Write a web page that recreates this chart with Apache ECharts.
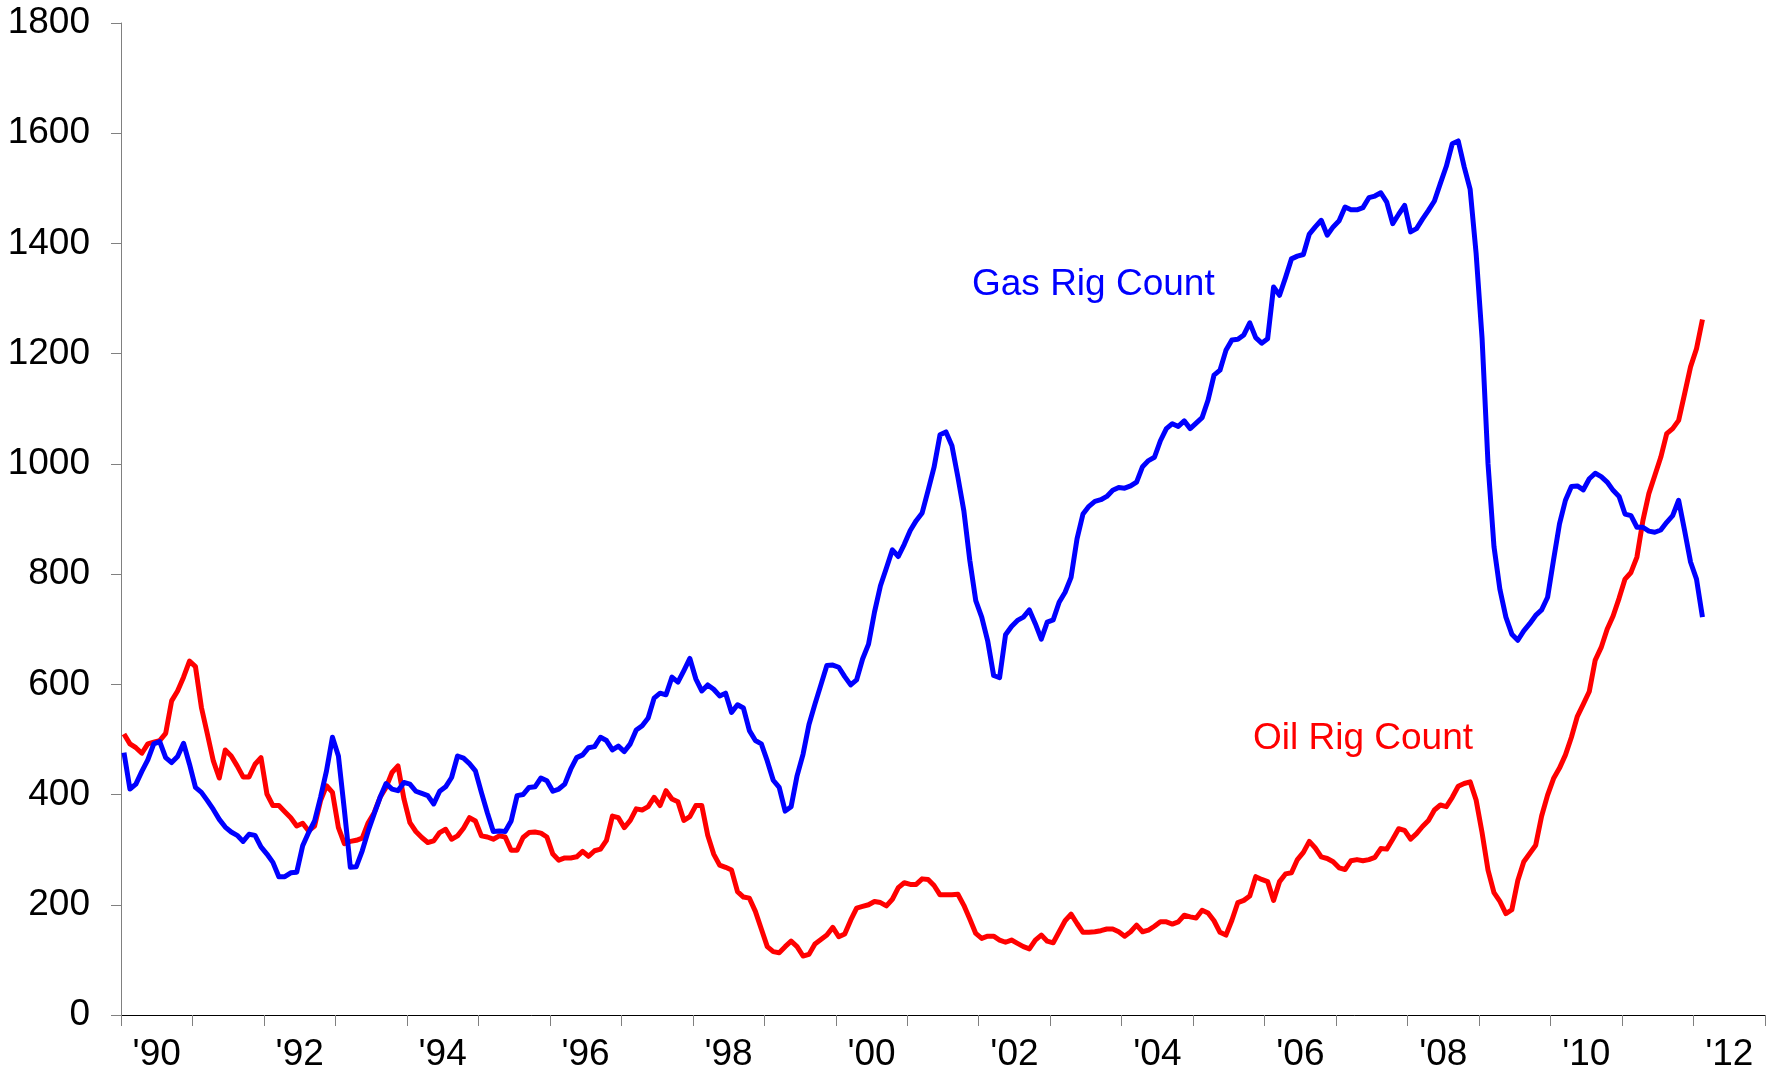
<!DOCTYPE html>
<html>
<head>
<meta charset="utf-8">
<script src="https://cdn.jsdelivr.net/npm/echarts@6/dist/echarts.min.js"></script>
<style>
  html, body { margin: 0; padding: 0; background: #fff; }
  #rig-chart { width: 1779px; height: 1077px; }
</style>
</head>
<body>
<div id="rig-chart"></div>
<script>
// monthly rig counts, Jan 1990 .. Feb 2012
const gasRigs = [
  476, 410, 419, 442, 463, 492, 496, 467, 458, 469, 493, 455,
  413, 404, 389, 373, 355, 341, 332, 326, 315, 328, 326, 305,
  292, 277, 251, 251, 258, 259, 307, 331, 352, 395, 443, 504,
  470, 372, 268, 269, 298, 334, 365, 395, 420, 410, 407, 422,
  419, 406, 402, 398, 383, 406, 414, 431, 470, 466, 456, 443,
  404, 367, 333, 334, 333, 352, 398, 400, 413, 414, 430, 425,
  406, 410, 419, 446, 467, 472, 485, 487, 504, 498, 481, 488,
  478, 492, 517, 525, 539, 575, 584, 581, 613, 604, 625, 647,
  610, 588, 599, 591, 579, 584, 549, 563, 557, 516, 498, 492,
  461, 426, 413, 370, 378, 434, 473, 527, 564, 599, 634, 635,
  631, 614, 599, 608, 646, 673, 731, 779, 811, 844, 832, 854,
  879, 897, 911, 952, 994, 1053, 1058, 1033, 976, 915, 825, 752,
  722, 679, 616, 612, 690, 705, 716, 722, 735, 710, 682, 713,
  717, 749, 767, 794, 864, 909, 923, 932, 935, 941, 952, 957,
  956, 960, 967, 995, 1006, 1012, 1042, 1064, 1073, 1068, 1078, 1064,
  1074, 1084, 1116, 1161, 1170, 1206, 1225, 1226, 1234, 1256, 1229, 1219,
  1227, 1321, 1306, 1338, 1372, 1377, 1380, 1417, 1430, 1442, 1415, 1430,
  1441, 1466, 1461, 1461, 1465, 1483, 1486, 1492, 1475, 1436, 1453, 1469,
  1421, 1427, 1444, 1460, 1477, 1509, 1540, 1581, 1586, 1539, 1498, 1382,
  1228, 1000, 850, 772, 722, 691, 680, 697, 710, 725, 735, 758,
  826, 891, 934, 959, 960, 953, 973, 983, 977, 967, 952, 941,
  909, 906, 885, 885, 878, 876, 880, 894, 906, 934, 879, 822,
  791, 722
];
const oilRigs = [
  510, 492, 485, 475, 492, 495, 498, 511, 570, 588, 613, 642,
  632, 558, 510, 461, 430, 481, 470, 452, 432, 432, 455, 467,
  401, 380, 380, 369, 358, 343, 348, 334, 343, 389, 416, 404,
  340, 311, 315, 317, 321, 349, 367, 395, 413, 440, 452, 392,
  349, 333, 322, 313, 316, 331, 337, 319, 325, 339, 358, 352,
  325, 323, 319, 325, 323, 299, 299, 322, 331, 332, 330, 323,
  292, 281, 285, 285, 287, 297, 288, 298, 301, 317, 361, 358,
  340, 353, 374, 372, 378, 395, 380, 407, 392, 387, 353, 360,
  380, 380, 326, 292, 272, 268, 263, 224, 214, 212, 188, 156,
  124, 115, 113, 124, 134, 124, 107, 110, 129, 137, 145, 159,
  142, 147, 172, 194, 197, 200, 206, 204, 198, 210, 231, 240,
  237, 237, 247, 246, 235, 218, 218, 218, 219, 199, 174, 148,
  139, 143, 143, 136, 132, 136, 130, 124, 120, 136, 145, 134,
  131, 151, 171, 183, 166, 150, 150, 151, 153, 156, 156, 151,
  143, 151, 163, 151, 154, 161, 169, 169, 165, 169, 181, 178,
  176, 190, 185, 171, 150, 145, 172, 204, 208, 216, 251, 246,
  242, 208, 242, 256, 258, 282, 295, 315, 303, 287, 284, 278,
  267, 264, 280, 282, 280, 282, 286, 302, 301, 319, 338, 335,
  319, 329, 342, 353, 372, 381, 378, 395, 415, 420, 423, 390,
  331, 263, 222, 206, 184, 191, 244, 278, 293, 308, 361, 399,
  429, 448, 472, 504, 542, 564, 587, 644, 667, 700, 724, 756,
  791, 803, 831, 897, 946, 979, 1012, 1055, 1064, 1079, 1127, 1176,
  1209, 1262
];
const firstYear = 1990;
const lastYear = 2012;
const yTicks = [0, 1800, 200]; // min, max, step

// one category per month, axis runs through the end of 2012
const months = [];
for (let y = firstYear; y <= lastYear; y++) {
  for (let m = 1; m <= 12; m++) {
    months.push(y + '-' + (m < 10 ? '0' + m : m));
  }
}

const chart = echarts.init(document.getElementById('rig-chart'));
const labelFont = 'Liberation Sans, Arial, sans-serif';

const option = {
  animation: false,
  backgroundColor: '#ffffff',
  grid: {
    left: 121,
    right: 14,
    top: 23,
    bottom: 62
  },
  xAxis: {
    type: 'category',
    data: months,
    boundaryGap: true,
    axisLine: {
      show: true,
      lineStyle: { color: '#000000', width: 1 }
    },
    axisTick: {
      show: true,
      length: 11,
      interval: function (idx) { return idx % 12 === 0; },
      lineStyle: { color: '#808080', width: 1 }
    },
    axisLabel: {
      interval: function (idx) { return idx % 24 === 6; },
      formatter: function (val) { return "'" + val.slice(2, 4); },
      color: '#000000',
      fontFamily: labelFont,
      fontSize: 37,
      margin: 21,
      padding: [0, 6, 0, 0]
    },
    splitLine: { show: false }
  },
  yAxis: {
    type: 'value',
    min: yTicks[0],
    max: yTicks[1],
    interval: yTicks[2],
    axisLine: {
      show: true,
      lineStyle: { color: '#808080', width: 1 }
    },
    axisTick: {
      show: true,
      inside: false,
      length: 10,
      lineStyle: { color: '#808080', width: 1 }
    },
    axisLabel: {
      formatter: function (v) { return String(v); },
      color: '#000000',
      fontFamily: labelFont,
      fontSize: 37,
      margin: 31
    },
    splitLine: { show: false }
  },
  series: [
    {
      name: 'Gas Rig Count',
      type: 'line',
      data: gasRigs,
      showSymbol: false,
      symbol: 'none',
      lineStyle: { color: '#0000ff', width: 5, join: 'round' },
      z: 3
    },
    {
      name: 'Oil Rig Count',
      type: 'line',
      data: oilRigs,
      showSymbol: false,
      symbol: 'none',
      lineStyle: { color: '#ff0000', width: 5, join: 'round' },
      z: 2
    }
  ],
  graphic: [
    {
      type: 'text',
      x: 972,
      y: 285,
      style: {
        text: 'Gas Rig Count',
        fill: '#0000ff',
        font: '37px ' + labelFont,
        verticalAlign: 'middle'
      }
    },
    {
      type: 'text',
      x: 1253,
      y: 739,
      style: {
        text: 'Oil Rig Count',
        fill: '#ff0000',
        font: '37px ' + labelFont,
        verticalAlign: 'middle'
      }
    }
  ]
};

chart.setOption(option);
</script>
</body>
</html>
